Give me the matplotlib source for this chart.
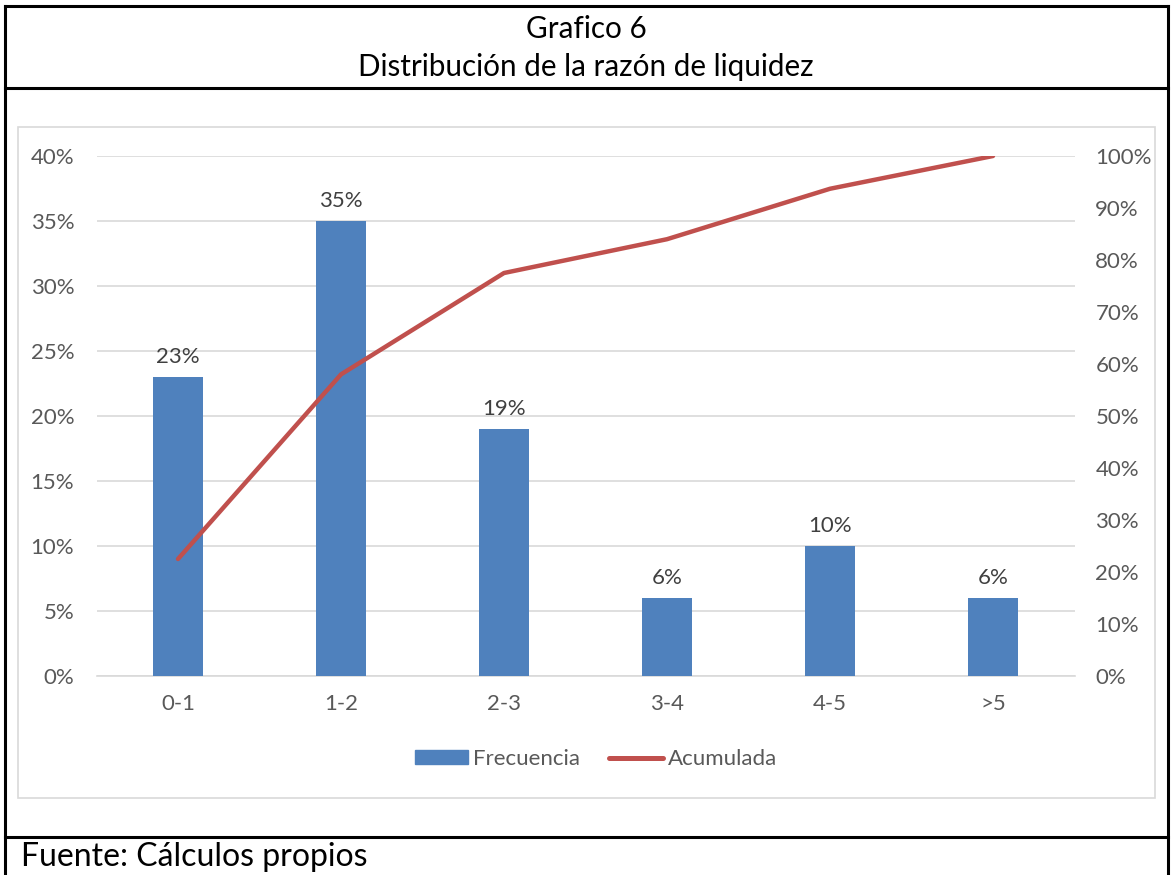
import matplotlib
matplotlib.use("Agg")
import matplotlib.pyplot as plt
from matplotlib.patches import Rectangle
from matplotlib.lines import Line2D
from matplotlib.ticker import FuncFormatter

categories = ["0-1", "1-2", "2-3", "3-4", "4-5", ">5"]
frecuencia = [23, 35, 19, 6, 10, 6]
acumulada = [22.5, 58, 77.5, 84, 93.7, 100]
left_ticks = [0, 5, 10, 15, 20, 25, 30, 35, 40]
right_ticks = [0, 10, 20, 30, 40, 50, 60, 70, 80, 90, 100]

plt.rcParams['font.family'] = ['Lato', 'DejaVu Sans']
W, H = 1172, 875
fig = plt.figure(figsize=(W / 100, H / 100), dpi=100)

def fx(x):
    return x / W

def fy(y):
    return 1 - y / H

def hline(y, x0=5, x1=1168):
    fig.add_artist(Line2D([fx(x0), fx(x1)], [fy(y), fy(y)], transform=fig.transFigure, color='black', lw=2.2))

def vline(x, y0=6, y1=875):
    fig.add_artist(Line2D([fx(x), fx(x)], [fy(y0), fy(y1)], transform=fig.transFigure, color='black', lw=2.2))

# outer frame & separators (open at the bottom)
hline(6)
hline(88)
hline(837)
vline(5)
vline(1168)
# chart area box
fig.add_artist(Rectangle((fx(18), fy(798)), fx(1155) - fx(18), fy(127) - fy(798),
                         transform=fig.transFigure, fill=False, lw=1.2, ec='#d9d9d9'))

fig.text(0.5, fy(29), "Grafico 6", ha='center', va='center', fontsize=21.3, color='black')
fig.text(0.5, fy(67), "Distribución de la razón de liquidez", ha='center', va='center', fontsize=21.3, color='black')
fig.text(fx(21), fy(857), "Fuente: Cálculos propios", ha='left', va='center', fontsize=23, color='black')

ax_l, ax_r = 96.5, 1074.5
ax_t, ax_b = 156, 676
ax = fig.add_axes([fx(ax_l), fy(ax_b), fx(ax_r) - fx(ax_l), fy(ax_t) - fy(ax_b)])
x = list(range(len(categories)))
bars = ax.bar(x, frecuencia, width=0.31, color='#4f81bd', zorder=3)
ax.set_xlim(-0.5, len(categories) - 0.5)
ax.set_ylim(0, 40)
ax.set_yticks(left_ticks)
ax.yaxis.set_major_formatter(FuncFormatter(lambda v, p: f"{v:.0f}%"))
ax.set_xticks(x)
ax.set_xticklabels(categories)
ax.grid(axis='y', color='#d9d9d9', lw=1.2, zorder=0)
for s in ax.spines.values():
    s.set_visible(False)
ax.spines['bottom'].set_visible(True)
ax.spines['bottom'].set_color('#d9d9d9')
ax.spines['bottom'].set_linewidth(1.2)
ax.tick_params(axis='both', length=0, labelsize=16, colors='#595959')
ax.tick_params(axis='y', pad=16)
ax.tick_params(axis='x', pad=13)
for xi, v in zip(x, frecuencia):
    ax.annotate(f"{v}%", (xi, v), xytext=(0, 7), textcoords='offset points',
                ha='center', va='bottom', fontsize=16, color='#404040')

ax2 = ax.twinx()
ax2.plot(x, acumulada, color='#c0504d', lw=3.2, solid_capstyle='round', zorder=4)
ax2.set_ylim(0, 100)
ax2.set_yticks(right_ticks)
ax2.yaxis.set_major_formatter(FuncFormatter(lambda v, p: f"{v:.0f}%"))
for s in ax2.spines.values():
    s.set_visible(False)
ax2.tick_params(axis='y', length=0, labelsize=16, colors='#595959', pad=15)

handles = [Rectangle((0, 0), 1, 1, color='#4f81bd'),
           Line2D([0], [0], color='#c0504d', lw=3.6, solid_capstyle='round')]
fig.legend(handles, ["Frecuencia", "Acumulada"], loc='center', bbox_to_anchor=(fx(596), fy(759)),
           ncol=2, frameon=False, fontsize=16, labelcolor='#595959', handlelength=2.4,
           handleheight=0.55, handletextpad=0.25, columnspacing=1.3)

fig.savefig("out.png", dpi=100)
